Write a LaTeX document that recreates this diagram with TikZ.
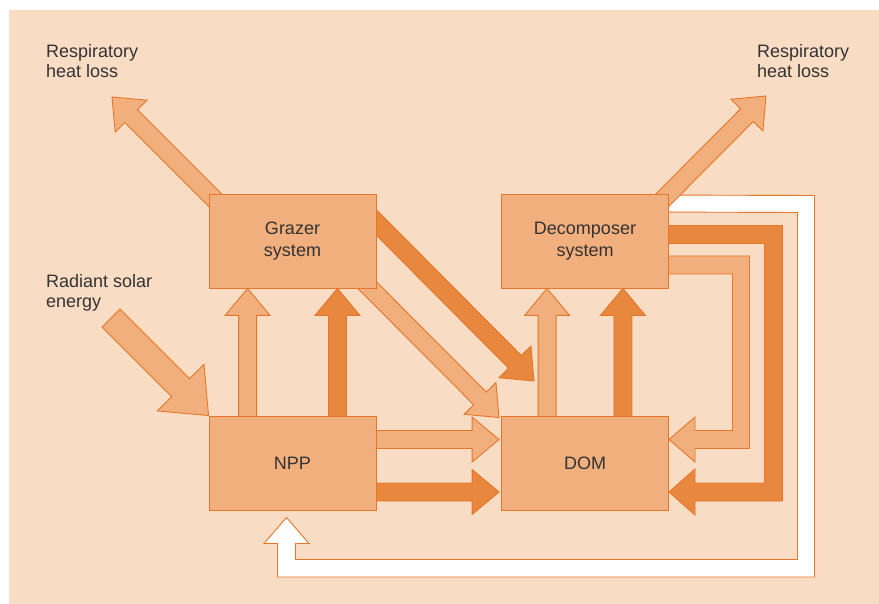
\documentclass[tikz,border=0pt]{standalone}
\usepackage{fontspec}
\setmainfont{Liberation Sans}
\usetikzlibrary{calc,backgrounds}

\definecolor{bgpeach}{HTML}{F9DCC4}
\definecolor{boxorange}{HTML}{F0AF7D}
\definecolor{darkorange}{HTML}{E8873E}
\definecolor{edgeorange}{HTML}{E5762A}
\definecolor{textgrey}{HTML}{333333}

\tikzset{
	system/.style = {draw = edgeorange, fill = boxorange, line width = 0.9pt, minimum width = 167pt, minimum height = 94pt, align = center, text = textgrey, font = \fontsize{18}{22}\selectfont},
	sidetext/.style = {align = left, inner sep = 0pt, text = textgrey, font = \fontsize{18}{20}\selectfont},
	lightflow/.style = {fill = boxorange, draw = edgeorange, line width = 0.9pt},
	darkflow/.style = {fill = darkorange, draw = edgeorange, line width = 0.9pt},
	whiteflow/.style = {fill = white, draw = edgeorange, line width = 0.9pt}
}

% block arrow: style, tail, tip, half shaft, half head, head length
\newcommand{\blockarrow}[6]{%
	\coordinate (fa-h) at ($(#3)!#6!(#2)$);
	\filldraw [#1] ($(#2)!#4!90:(#3)$) -- ($(fa-h)!#4!90:(#3)$) -- ($(fa-h)!#5!90:(#3)$) -- (#3)
		-- ($(fa-h)!#5!-90:(#3)$) -- ($(fa-h)!#4!-90:(#3)$) -- ($(#2)!#4!-90:(#3)$) -- cycle;
}
\newcommand{\flowarrow}[3]{\blockarrow{#1}{#2}{#3}{9pt}{22.5pt}{27pt}}

\begin{document}
\begin{tikzpicture} [x = 1pt, y = -1pt]
	\useasboundingbox (0,0) rectangle (879,604);

	\node [system] (grazer) at (292.5,241) {Grazer\\system};
	\node [system] (decomp) at (585,241) {Decomposer\\system};
	\node [system] (npp) at (292.5,463) {NPP};
	\node [system] (dom) at (585,463) {DOM};

	\node [sidetext, anchor = north west] (resp-left) at (46,44.5) {Respiratory\\heat loss};
	\node [sidetext, anchor = north west] (resp-right) at (757,44.5) {Respiratory\\heat loss};
	\node [sidetext, anchor = north west] (solar-text) at (46,274.5) {Radiant solar\\energy};

	\coordinate (g-out) at ($(grazer.north west)+(12,12)$);
	\coordinate (g-resp) at (112,97);
	\coordinate (d-out) at ($(decomp.north east)+(-12,12)$);
	\coordinate (d-resp) at (766,96);
	\coordinate (solar) at (111,318);
	\coordinate (n-up1) at ($(npp.north west)+(39,10)$);
	\coordinate (g-in1) at ($(grazer.south west)+(39,0)$);
	\coordinate (n-up2) at ($(npp.north east)+(-39,10)$);
	\coordinate (g-in2) at ($(grazer.south east)+(-39,0)$);
	\coordinate (o-up1) at ($(dom.north west)+(46,10)$);
	\coordinate (d-in1) at ($(decomp.south west)+(46,0)$);
	\coordinate (o-up2) at ($(dom.north east)+(-46,10)$);
	\coordinate (d-in2) at ($(decomp.south east)+(-46,0)$);
	\coordinate (g-dark) at ($(grazer.north east)+(-10,19)$);
	\coordinate (dark-tip) at (534,381);
	\coordinate (g-light) at ($(grazer.south east)+(-16,-10)$);
	\coordinate (light-tip) at ($(dom.north west)+(-2,2)$);
	\coordinate (n-r1) at ($(npp.east)+(-10,-23.5)$);
	\coordinate (o-l1) at ($(dom.west)+(-2,-23.5)$);
	\coordinate (n-r2) at ($(npp.east)+(-10,29)$);
	\coordinate (o-l2) at ($(dom.west)+(-2,29)$);

	\begin{scope} [on background layer]
		\fill [bgpeach] (9,10) rectangle (879,604);

		% return loops from the decomposer
		\filldraw [whiteflow] ($(decomp.north east)+(-8,1.5)$) -- (814.5,195.5) -- (814.5,577) -- (277.5,577) -- (277.5,543.5) -- (264,543.5)
			-- ($(npp.south)+(-6,7)$) -- (309,543.5) -- (295.5,543.5) -- (295.5,559.5) -- (797.5,559.5) -- (797.5,212.5)
			-- ($(decomp.north east)+(-8,18.5)$) -- cycle;
		\filldraw [darkflow] ($(decomp.east)+(-8,-15.5)$) -- (782.5,225.5) -- (782.5,501) -- (695,501) -- (695,515)
			-- ($(dom.east)+(0,29)$) -- (695,469) -- (695,483) -- (764.5,483) -- (764.5,243.5)
			-- ($(decomp.east)+(-8,2.5)$) -- cycle;
		\filldraw [lightflow] ($(decomp.east)+(-8,15)$) -- (749.5,256) -- (749.5,448.5) -- (695,448.5) -- (695,462)
			-- ($(dom.east)+(0,-23.5)$) -- (695,417) -- (695,430.5) -- (732.5,430.5) -- (732.5,274)
			-- ($(decomp.east)+(-8,33)$) -- cycle;

		\flowarrow{darkflow}{g-dark}{dark-tip}
		\flowarrow{lightflow}{g-light}{light-tip}
		\flowarrow{lightflow}{n-up1}{g-in1}
		\flowarrow{darkflow}{n-up2}{g-in2}
		\flowarrow{lightflow}{o-up1}{d-in1}
		\flowarrow{darkflow}{o-up2}{d-in2}
		\flowarrow{lightflow}{n-r1}{o-l1}
		\flowarrow{darkflow}{n-r2}{o-l2}
		\flowarrow{lightflow}{g-out}{g-resp}
		\flowarrow{lightflow}{d-out}{d-resp}
		\blockarrow{lightflow}{solar}{npp.north west}{12.75pt}{33pt}{39.5pt}
	\end{scope}
\end{tikzpicture}
\end{document}
